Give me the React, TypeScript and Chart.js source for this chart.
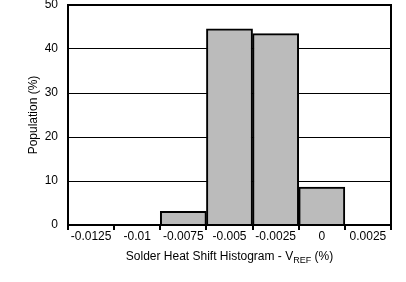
import React, { useEffect, useRef } from "react";
import { Chart, registerables } from "chart.js";

Chart.register(...registerables);

const binLabels = ["-0.0125", "-0.01", "-0.0075", "-0.005", "-0.0025", "0", "0.0025"];
const population = [0, 0, 3.1, 44.6, 43.5, 8.6, 0];
const yTitle = "Population (%)";
const xTitleMain = "Solder Heat Shift Histogram - V";
const xTitleSub = "REF";
const xTitleEnd = " (%)";

const FONT = "Liberation Sans, Arial, Helvetica, sans-serif";

const framePlugin = {
  id: "frameAndTitles",
  afterDatasetsDraw(chart: any) {
    const { ctx, chartArea } = chart;
    const { left, right, top, bottom } = chartArea;
    ctx.save();
    ctx.strokeStyle = "#000";
    ctx.lineWidth = 2;
    ctx.strokeRect(left, top, right - left, bottom - top);

    // y title
    ctx.fillStyle = "#000";
    ctx.font = `12px ${FONT}`;
    ctx.textAlign = "center";
    ctx.textBaseline = "middle";
    ctx.translate(left - 34, (top + bottom) / 2);
    ctx.rotate(-Math.PI / 2);
    ctx.fillText(yTitle, 0, 0);
    ctx.setTransform(1, 0, 0, 1, 0, 0);

    // x title with subscript
    const big = `12px ${FONT}`;
    const small = `9px ${FONT}`;
    ctx.font = big;
    const w1 = ctx.measureText(xTitleMain).width;
    const w3 = ctx.measureText(xTitleEnd).width;
    ctx.font = small;
    const w2 = ctx.measureText(xTitleSub).width;
    const total = w1 + w2 + w3;
    let x = (left + right) / 2 - total / 2;
    const y = bottom + 31;
    ctx.textAlign = "left";
    ctx.textBaseline = "alphabetic";
    ctx.font = big;
    ctx.fillText(xTitleMain, x, y + 4);
    x += w1;
    ctx.font = small;
    ctx.fillText(xTitleSub, x, y + 7);
    x += w2;
    ctx.font = big;
    ctx.fillText(xTitleEnd, x, y + 4);
    ctx.restore();
  },
};

export default function App() {
  const ref = useRef<HTMLCanvasElement | null>(null);
  useEffect(() => {
    if (!ref.current) return;
    const chart = new Chart(ref.current, {
      type: "bar",
      data: {
        labels: binLabels,
        datasets: [
          {
            data: population,
            backgroundColor: "#bbbbbb",
            borderColor: "#000",
            borderWidth: 2,
            barPercentage: 1,
            categoryPercentage: 1,
          },
        ],
      },
      options: {
        animation: false,
        responsive: true,
        maintainAspectRatio: false,
        layout: { padding: { top: 5, right: 15, left: 0, bottom: 0 } },
        plugins: { legend: { display: false }, tooltip: { enabled: false }, title: { display: false } },
        scales: {
          x: {
            offset: true,
            grid: {
              offset: true,
              drawOnChartArea: false,
              drawTicks: true,
              tickLength: 5,
              color: "#000",
              lineWidth: 2,
            },
            border: { display: true, color: "#000", width: 2 },
            ticks: { color: "#000", font: { family: FONT, size: 12 }, padding: -1, maxRotation: 0, autoSkip: false },
            afterFit: (s: any) => {
              s.height = 57;
              s.paddingLeft = 0;
              s.paddingRight = 0;
            },
          },
          y: {
            min: 0,
            max: 50,
            ticks: { stepSize: 10, color: "#000", font: { family: FONT, size: 12 }, padding: 10 },
            grid: { color: "#000", lineWidth: 1, drawTicks: false },
            border: { display: true, color: "#000", width: 2 },
            afterFit: (s: any) => {
              s.width = 68;
              s.paddingTop = 0;
              s.paddingBottom = 0;
            },
          },
        },
      },
      plugins: [framePlugin],
    });
    return () => chart.destroy();
  }, []);
  return (
    <div style={{ position: "absolute", left: 0, top: 0, width: 406, height: 282, background: "#fff" }}>
      <canvas ref={ref} />
    </div>
  );
}
